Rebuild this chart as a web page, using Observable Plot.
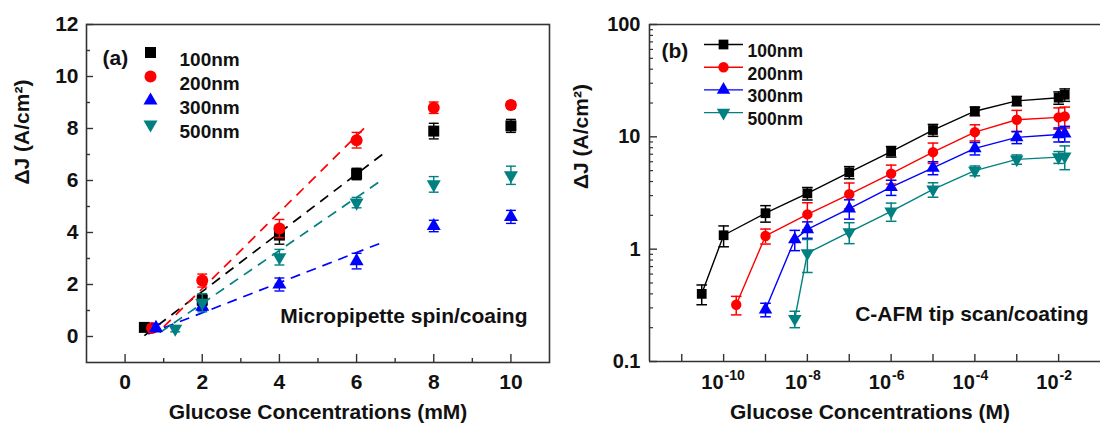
<!DOCTYPE html>
<html><head><meta charset="utf-8">
<script src="https://cdn.jsdelivr.net/npm/d3@7"></script>
<script src="https://cdn.jsdelivr.net/npm/@observablehq/plot@0.6"></script>
<style>
html,body{margin:0;padding:0;background:#fff;}
#wrap{position:relative;width:1100px;height:427px;overflow:hidden;background:#fff;}
#a{position:absolute;left:0;top:0;}
#b{position:absolute;left:560px;top:0;}
</style></head><body><div id="wrap"><div id="a"></div><div id="b"></div></div>
<script>
// ---------- shared ----------
const seriesNames = ["100nm", "200nm", "300nm", "500nm"];
const seriesColors = ["#000000", "#ff0000", "#0000ff", "#008080"];

// ---------- panel (a): Micropipette spin/coating (linear, mM) ----------
const aX100 = [0.5, 2, 4, 6, 8, 10];
const aY100 = [0.35, 1.4, 3.9, 6.25, 7.9, 8.1];
const aE100 = [0.08, 0.2, 0.35, 0.22, 0.3, 0.25];
const aX200 = [0.7, 2, 4, 6, 8, 10];
const aY200 = [0.33, 2.15, 4.15, 7.55, 8.8, 8.9];
const aE200 = [0.1, 0.25, 0.35, 0.3, 0.22, 0.12];
const aX300 = [0.8, 2, 4, 6, 8, 10];
const aY300 = [0.33, 1.15, 2.0, 2.9, 4.25, 4.6];
const aE300 = [0.15, 0.15, 0.25, 0.3, 0.22, 0.25];
const aX500 = [1.3, 2, 4, 6, 8, 10];
const aY500 = [0.3, 1.3, 3.05, 5.15, 5.85, 6.2];
const aE500 = [0.12, 0.35, 0.3, 0.2, 0.3, 0.35];
// linear fits (dashed): slope, intercept, x-range
const fitSlope = [1.13, 1.47, 0.58, 1.02];
const fitIntercept = [-0.53, -1.1, -0.25, -0.77];
const fitXStart = [0.5, 1.0, 0.6, 0.9];
const fitXEnd = [6.7, 6.26, 6.75, 6.57];
const aXTicks = [0, 2, 4, 6, 8, 10];
const aXMinor = [1, 3, 5, 7, 9];
const aYTicks = [0, 2, 4, 6, 8, 10, 12];
const aYMinor = [1, 3, 5, 7, 9, 11];
const aXDomain = [-1, 11];
const aYDomain = [-1, 12];

// ---------- panel (b): C-AFM tip scan/coating (log, M) ----------
const bX100 = [3e-11, 1e-10, 1e-9, 1e-8, 1e-7, 1e-6, 1e-5, 1e-4, 1e-3, 1e-2, 1.4e-2];
const bY100 = [0.40, 1.33, 2.09, 3.14, 4.83, 7.4, 11.5, 16.9, 20.9, 22.3, 23.7];
const bE100 = [0.08, 0.28, 0.35, 0.4, 0.6, 0.8, 1.4, 1.5, 2.0, 2.8, 3.0];
const bX200 = [2e-10, 1e-9, 1e-8, 1e-7, 1e-6, 1e-5, 1e-4, 1e-3, 1e-2, 1.4e-2];
const bY200 = [0.32, 1.31, 2.04, 3.08, 4.7, 7.3, 11.0, 14.2, 14.9, 15.2];
const bE200 = [0.06, 0.2, 0.55, 0.8, 0.9, 1.5, 1.8, 3.0, 3.2, 3.2];
const bX300 = [1e-9, 5e-9, 1e-8, 1e-7, 1e-6, 1e-5, 1e-4, 1e-3, 1e-2, 1.4e-2];
const bY300 = [0.29, 1.22, 1.5, 2.3, 3.56, 5.3, 7.9, 9.9, 10.5, 10.7];
const bE300 = [0.04, 0.25, 0.25, 0.45, 0.55, 0.7, 1.0, 1.2, 1.5, 1.7];
const bX500 = [5e-9, 1e-8, 1e-7, 1e-6, 1e-5, 1e-4, 1e-3, 1e-2, 1.4e-2];
const bY500 = [0.24, 0.92, 1.42, 2.17, 3.4, 5.0, 6.3, 6.6, 6.7];
const bE500 = [0.04, 0.3, 0.3, 0.4, 0.5, 0.5, 0.6, 0.8, 1.6];
const bXTicks = [1e-11, 1e-10, 1e-9, 1e-8, 1e-7, 1e-6, 1e-5, 1e-4, 1e-3, 1e-2];
const bXLabelExp = [-10, -8, -6, -4, -2];
const bYTicks = [0.1, 1, 10, 100];
const bYMinor = [0.2,0.3,0.4,0.5,0.6,0.7,0.8,0.9, 2,3,4,5,6,7,8,9, 20,30,40,50,60,70,80,90];
const bXDomain = [Math.pow(10, -11.77), Math.pow(10, -1)];
const bYDomain = [0.1, 100];

// ---------- helpers ----------
const zip = (xs, ys, es) => xs.map((x, i) => ({x, y: ys[i], e: es[i]}));
const aSeries = [zip(aX100, aY100, aE100), zip(aX200, aY200, aE200), zip(aX300, aY300, aE300), zip(aX500, aY500, aE500)];
const bSeries = [zip(bX100, bY100, bE100), zip(bX200, bY200, bE200), zip(bX300, bY300, bE300), zip(bX500, bY500, bE500)];
const fits = seriesNames.map((n, i) => ({
  x1: fitXStart[i], y1: fitSlope[i] * fitXStart[i] + fitIntercept[i],
  x2: fitXEnd[i], y2: fitSlope[i] * fitXEnd[i] + fitIntercept[i], c: seriesColors[i]
}));

const capSym = {draw(ctx, size) { const w = Math.sqrt(size) / 2; ctx.moveTo(-w, 0); ctx.lineTo(w, 0); }};
const triDown = {draw(ctx, size) {
  const y = -Math.sqrt(size / (Math.sqrt(3) * 3));
  ctx.moveTo(0, -2 * y); ctx.lineTo(Math.sqrt(3) * y, y); ctx.lineTo(-Math.sqrt(3) * y, y); ctx.closePath();
}};
const symbols = ["square", "circle", "triangle", triDown];
const FONT = "'Liberation Sans', Arial, sans-serif";
const INK = "#111";
const FRAME = "#333";

function errMarks(data, color, capR, sw) {
  return [
    Plot.ruleX(data, {x: "x", y1: d => d.y - d.e, y2: d => d.y + d.e, stroke: color, strokeWidth: sw}),
    Plot.dot(data, {x: "x", y: d => d.y + d.e, symbol: capSym, r: capR, stroke: color, fill: "none", strokeWidth: sw}),
    Plot.dot(data, {x: "x", y: d => d.y - d.e, symbol: capSym, r: capR, stroke: color, fill: "none", strokeWidth: sw})
  ];
}

// ---------- panel (a) ----------
const aMarkR = [6.2, 6, 5.2, 5.2];
const aW = 560, aH = 427, aML = 86, aMR = 11, aMT = 24, aMB = 65;
const aInnerW = aW - aML - aMR, aInnerH = aH - aMT - aMB;

const aMarks = [
  Plot.ruleX(aXTicks, {x: d => d, insetTop: aInnerH - 8, stroke: FRAME, strokeWidth: 1.4}),
  Plot.ruleX(aXMinor, {x: d => d, insetTop: aInnerH - 4, stroke: FRAME, strokeWidth: 1.4}),
  Plot.ruleY(aYTicks, {y: d => d, insetRight: aInnerW - 7, stroke: FRAME, strokeWidth: 1.4}),
  Plot.ruleY(aYMinor, {y: d => d, insetRight: aInnerW - 4, stroke: FRAME, strokeWidth: 1.4}),
  Plot.link(fits, {x1: "x1", y1: "y1", x2: "x2", y2: "y2", stroke: "c", strokeWidth: 1.7, strokeDasharray: "10,7"}),
];
aSeries.forEach((s, i) => {
  aMarks.push(...errMarks(s, seriesColors[i], 5.6, 1.4));
  aMarks.push(Plot.dot(s, {x: "x", y: "y", symbol: symbols[i], r: aMarkR[i], fill: seriesColors[i], stroke: "none"}));
});
aMarks.push(Plot.frame({stroke: FRAME, strokeWidth: 1.6}));
// legend
aMarks.push(Plot.text(["(a)"], {text: d => d, frameAnchor: "top-left", dx: 16, dy: 26, textAnchor: "start", fontSize: 21, fill: INK}));
seriesNames.forEach((n, i) => {
  aMarks.push(Plot.dot([n], {frameAnchor: "top-left", dx: 64, dy: 28 + 24 * i, symbol: symbols[i], r: aMarkR[i], fill: seriesColors[i], stroke: "none"}));
  aMarks.push(Plot.text([n], {text: d => d, frameAnchor: "top-left", dx: 93, dy: 28 + 24 * i, textAnchor: "start", fontSize: 19, fill: INK}));
});
aMarks.push(Plot.text(["Micropipette spin/coaing"], {text: d => d, frameAnchor: "bottom-right", dx: -22, dy: -40, textAnchor: "end", fontSize: 21, fill: INK}));
aMarks.push(Plot.text(["ΔJ (A/cm²)"], {text: d => d, frameAnchor: "left", rotate: -90, dx: -64, dy: -9, fontSize: 21, fill: INK}));
aMarks.push(Plot.text(["Glucose Concentrations (mM)"], {text: d => d, frameAnchor: "bottom", dy: 56, fontSize: 21, fill: INK}));

const plotA = Plot.plot({
  width: aW, height: aH, marginLeft: aML, marginRight: aMR, marginTop: aMT, marginBottom: aMB,
  style: {fontFamily: FONT, fontWeight: "bold", fontSize: "21px", color: INK, background: "transparent", overflow: "visible"},
  x: {type: "linear", domain: aXDomain, ticks: aXTicks, tickSize: 0, tickPadding: 12, label: null},
  y: {type: "linear", domain: aYDomain, ticks: aYTicks, tickSize: 0, tickPadding: 8, label: null},
  marks: aMarks
});
document.getElementById("a").appendChild(plotA);

// ---------- panel (b) ----------
const bMarkR = [5.5, 5.2, 5.0, 5.0];
const bW = 540, bH = 427, bML = 89, bMR = 0, bMT = 24, bMB = 66;
const bInnerW = bW - bML - bMR, bInnerH = bH - bMT - bMB;
const bMarks = [
  Plot.ruleX(bXTicks, {x: d => d, insetTop: bInnerH - 7, stroke: FRAME, strokeWidth: 1.4}),
  Plot.ruleY(bYTicks, {y: d => d, insetRight: bInnerW - 8, stroke: FRAME, strokeWidth: 1.4}),
  Plot.ruleY(bYMinor, {y: d => d, insetRight: bInnerW - 4, stroke: FRAME, strokeWidth: 1.2}),
];
bSeries.forEach((s, i) => {
  bMarks.push(Plot.line(s, {x: "x", y: "y", stroke: seriesColors[i], strokeWidth: 1.4}));
});
bSeries.forEach((s, i) => {
  bMarks.push(...errMarks(s, seriesColors[i], 6, 1.5));
  bMarks.push(Plot.dot(s, {x: "x", y: "y", symbol: symbols[i], r: bMarkR[i], fill: seriesColors[i], stroke: "none"}));
});
bMarks.push(Plot.ruleX([bXDomain[0]], {stroke: FRAME, strokeWidth: 1.6}));
bMarks.push(Plot.ruleY([bYDomain[0], bYDomain[1]], {stroke: FRAME, strokeWidth: 1.6}));
// x labels as 10^n
bMarks.push(Plot.text(bXLabelExp, {x: d => Math.pow(10, d), text: () => "10", frameAnchor: "bottom", dy: 27, textAnchor: "end", fontSize: 20, fill: INK}));
bMarks.push(Plot.text(bXLabelExp, {x: d => Math.pow(10, d), text: d => "-" + Math.abs(d), frameAnchor: "bottom", dy: 18, dx: 1, textAnchor: "start", fontSize: 14, fill: INK}));
// legend
bMarks.push(Plot.text(["(b)"], {text: d => d, frameAnchor: "top-left", dx: 12, dy: 19, textAnchor: "start", fontSize: 21, fill: INK}));
seriesNames.forEach((n, i) => {
  const dy = 20 + 22.7 * i;
  bMarks.push(Plot.dot([n], {frameAnchor: "top-left", dx: 74, dy, symbol: capSym, r: 22, stroke: seriesColors[i], fill: "none", strokeWidth: 1.4}));
  bMarks.push(Plot.dot([n], {frameAnchor: "top-left", dx: 74, dy, symbol: symbols[i], r: bMarkR[i], fill: seriesColors[i], stroke: "none"}));
  bMarks.push(Plot.text([n], {text: d => d, frameAnchor: "top-left", dx: 98, dy, textAnchor: "start", fontSize: 17.5, fill: INK}));
});
bMarks.push(Plot.text(["C-AFM tip scan/coating"], {text: d => d, frameAnchor: "bottom-right", dx: -12, dy: -41, textAnchor: "end", fontSize: 21, fill: INK}));
bMarks.push(Plot.text(["ΔJ (A/cm²)"], {text: d => d, frameAnchor: "left", rotate: -90, dx: -68, dy: -4, fontSize: 21, fill: INK}));
bMarks.push(Plot.text(["Glucose Concentrations (M)"], {text: d => d, frameAnchor: "bottom", dx: -5, dy: 57, fontSize: 21, fill: INK}));

const plotB = Plot.plot({
  width: bW, height: bH, marginLeft: bML, marginRight: bMR, marginTop: bMT, marginBottom: bMB,
  style: {fontFamily: FONT, fontWeight: "bold", fontSize: "20px", color: INK, background: "transparent", overflow: "visible"},
  x: {type: "log", domain: bXDomain, axis: null},
  y: {type: "log", domain: bYDomain, ticks: bYTicks, tickSize: 0, tickPadding: 9, tickFormat: d => d < 1 ? "0.1" : String(d), label: null},
  marks: bMarks
});
document.getElementById("b").appendChild(plotB);
</script></body></html>
